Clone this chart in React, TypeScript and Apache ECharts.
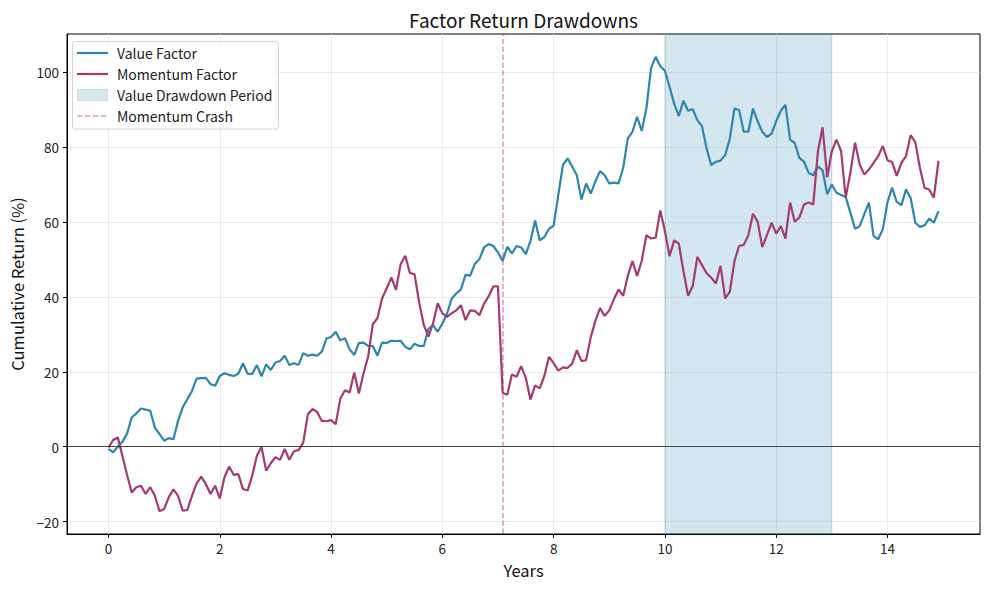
import { useEffect, useRef } from 'react'
import * as echarts from 'echarts'

// ── Data (monthly cumulative returns, %) ──────────────────────────────────────

const valueFactor = [
  -0.6, -1.5, 0.0, 1.3, 3.5, 7.8, 8.9, 10.2, 9.9, 9.6, 5.1, 3.4,
  1.6, 2.3, 2.0, 6.9, 10.5, 12.7, 14.9, 18.2, 18.3, 18.4, 16.7, 16.3,
  18.9, 19.6, 19.2, 18.9, 19.5, 22.3, 19.5, 19.4, 21.8, 18.8, 22.0, 20.5,
  22.5, 22.9, 24.3, 21.8, 22.3, 21.9, 25.0, 24.3, 24.6, 24.3, 25.4, 28.9,
  29.3, 30.7, 28.4, 29.0, 26.0, 24.5, 27.7, 27.8, 26.9, 26.9, 24.3, 27.8,
  27.7, 28.3, 28.2, 28.3, 26.7, 26.0, 27.5, 26.9, 26.9, 31.5, 32.5, 30.7,
  32.9, 35.5, 39.5, 40.9, 42.0, 45.9, 45.7, 48.8, 50.1, 53.2, 54.1, 53.6,
  51.9, 49.6, 53.4, 51.6, 53.6, 53.2, 51.4, 54.9, 60.4, 55.1, 56.0, 58.2,
  59.0, 67.2, 75.2, 77.0, 74.8, 72.5, 66.0, 70.3, 67.6, 70.8, 73.6, 72.5,
  70.3, 70.5, 70.3, 74.5, 82.3, 84.1, 88.1, 84.3, 90.3, 101.0, 104.1, 101.6,
  100.4, 96.1, 91.6, 88.3, 92.4, 89.7, 90.1, 87.2, 85.6, 79.6, 75.2, 76.1,
  76.4, 77.9, 82.3, 90.3, 89.9, 84.1, 84.1, 90.3, 86.9, 84.1, 82.7, 83.6,
  86.9, 89.7, 91.3, 82.0, 81.1, 77.1, 76.1, 73.1, 72.5, 74.9, 73.8, 67.4,
  70.0, 67.8, 67.2, 66.7, 62.5, 58.2, 58.9, 62.1, 65.2, 56.3, 55.4, 58.1,
  65.2, 69.2, 65.4, 64.5, 68.7, 66.4, 59.8, 58.7, 59.1, 60.9, 59.8, 62.9,
]

const momentumFactor = [
  -0.2, 1.8, 2.5, -2.5, -7.5, -12.2, -10.8, -10.4, -12.6, -10.8, -13.1, -17.2,
  -16.6, -13.5, -11.4, -13.1, -17.1, -16.9, -13.1, -9.8, -8.0, -10.0, -12.6, -10.4,
  -13.8, -8.2, -5.3, -7.5, -7.3, -11.3, -11.7, -7.7, -2.4, 0.0, -6.4, -4.4,
  -2.8, -3.5, -0.6, -3.5, -1.2, -0.9, 1.1, 8.7, 10.1, 9.3, 6.9, 6.8,
  7.1, 6.0, 12.9, 15.1, 14.5, 19.8, 14.2, 19.6, 24.1, 32.7, 34.3, 39.6,
  42.3, 45.2, 41.9, 48.7, 51.0, 46.4, 46.1, 38.5, 32.5, 29.4, 33.0, 38.3,
  35.6, 34.7, 35.6, 36.4, 37.8, 33.8, 36.4, 36.3, 35.1, 38.2, 40.2, 42.8,
  42.8, 14.4, 13.9, 19.3, 18.7, 21.5, 18.4, 12.6, 16.4, 15.6, 18.9, 24.0,
  22.3, 20.3, 21.2, 21.0, 22.2, 25.8, 22.9, 23.1, 29.2, 33.6, 37.0, 34.9,
  36.4, 39.4, 42.0, 40.3, 45.6, 49.6, 45.6, 49.6, 56.5, 55.6, 55.8, 63.1,
  57.6, 50.9, 55.1, 54.2, 46.9, 40.3, 42.9, 50.7, 48.5, 46.3, 45.1, 43.6,
  48.3, 39.6, 41.4, 49.6, 53.6, 53.9, 56.5, 62.2, 60.1, 53.3, 56.5, 59.8,
  56.9, 58.9, 55.6, 65.2, 60.1, 61.2, 64.7, 65.2, 64.7, 78.9, 85.3, 72.0,
  78.9, 82.0, 78.9, 66.5, 73.2, 81.2, 75.4, 72.7, 74.0, 75.8, 77.6, 80.3,
  76.5, 76.0, 72.3, 75.8, 77.6, 83.2, 81.3, 74.5, 69.1, 68.7, 66.5, 76.3,
]

const xTicks = [0, 2, 4, 6, 8, 10, 12, 14]
const yTicks = [-20, 0, 20, 40, 60, 80, 100]
const drawdownPeriod = [10, 13]
const crashMonth = 85

// ── Styling ───────────────────────────────────────────────────────────────────

const FONT = '"Noto Sans CJK JP", "Noto Sans", sans-serif'
const VALUE_COLOR = '#2E86AB'
const MOMENTUM_COLOR = '#A23B72'
const CRASH_COLOR = 'rgba(162,59,114,0.5)'
const GRID_COLOR = '#e6e6e6'
const LEGEND_Z = 100

const toPoints = (vals: number[]) => vals.map((v, i) => [i / 12, v])

const fmtTick = (v: number) => (v < 0 ? `\u2212${Math.abs(v)}` : `${v}`)

function legendGraphic() {
  const rows = [53, 74, 95, 116]
  const labels = ['Value Factor', 'Momentum Factor', 'Value Drawdown Period', 'Momentum Crash']
  const label = (text: string, y: number) => ({
    type: 'text',
    z: LEGEND_Z + 1,
    x: 117,
    y,
    style: { text, fill: '#222', font: `14px ${FONT}`, textVerticalAlign: 'middle' },
  })
  return [
    {
      type: 'rect',
      z: LEGEND_Z,
      shape: { x: 72.5, y: 41.5, width: 206, height: 87.5, r: 3 },
      style: { fill: 'rgba(255,255,255,0.85)', stroke: '#d4d4d4', lineWidth: 1 },
    },
    {
      type: 'line',
      z: LEGEND_Z + 1,
      shape: { x1: 77, y1: rows[0], x2: 108, y2: rows[0] },
      style: { stroke: VALUE_COLOR, lineWidth: 2.2 },
    },
    {
      type: 'line',
      z: LEGEND_Z + 1,
      shape: { x1: 77, y1: rows[1], x2: 108, y2: rows[1] },
      style: { stroke: MOMENTUM_COLOR, lineWidth: 2.2 },
    },
    {
      type: 'rect',
      z: LEGEND_Z + 1,
      shape: { x: 77.5, y: 89.5, width: 30, height: 11 },
      style: { fill: '#d5e7ee', stroke: 'rgba(46,134,171,0.2)', lineWidth: 1 },
    },
    {
      type: 'line',
      z: LEGEND_Z + 1,
      shape: { x1: 77, y1: rows[3], x2: 108, y2: rows[3] },
      style: { stroke: CRASH_COLOR, lineWidth: 1.5, lineDash: [5.5, 2.4] },
    },
    ...labels.map((l, i) => label(l, rows[i])),
  ]
}

export default function App() {
  const ref = useRef<HTMLDivElement>(null)

  useEffect(() => {
    if (!ref.current) return
    const chart = echarts.init(ref.current, null, { renderer: 'svg' })

    chart.setOption({
      animation: false,
      backgroundColor: '#fff',
      textStyle: { fontFamily: FONT },
      grid: {
        left: 67,
        top: 34,
        right: 9,
        bottom: 56,
        show: true,
        borderColor: '#000',
        borderWidth: 1,
        containLabel: false,
      },
      xAxis: {
        type: 'value',
        min: -0.746,
        max: 15.663,
        name: 'Years',
        nameLocation: 'middle',
        nameGap: 28,
        nameTextStyle: { fontSize: 16.5, color: '#111', fontFamily: FONT },
        axisLine: { show: true, onZero: false, lineStyle: { color: '#000', width: 1 } },
        axisTick: { show: true, length: 4, lineStyle: { color: '#000' }, customValues: xTicks },
        axisLabel: {
          customValues: xTicks,
          color: '#222',
          fontSize: 13.5,
          margin: 7,
          formatter: (v: number) => fmtTick(v),
        },
        splitLine: { show: true, lineStyle: { color: GRID_COLOR, width: 0.8 } },
      },
      yAxis: {
        type: 'value',
        min: -23.3,
        max: 110.2,
        name: 'Cumulative Return (%)',
        nameLocation: 'middle',
        nameGap: 42,
        nameTextStyle: { fontSize: 16.5, color: '#111', fontFamily: FONT },
        axisLine: { show: true, onZero: false, lineStyle: { color: '#000', width: 1 } },
        axisTick: { show: true, length: 4, lineStyle: { color: '#000' }, customValues: yTicks },
        axisLabel: {
          customValues: yTicks,
          color: '#222',
          fontSize: 13.5,
          margin: 8,
          formatter: (v: number) => fmtTick(v),
        },
        splitLine: { show: true, lineStyle: { color: GRID_COLOR, width: 0.8 } },
      },
      graphic: [
        {
          type: 'text',
          x: 523.5,
          y: 19,
          style: {
            text: 'Factor Return Drawdowns',
            fill: '#111',
            font: `19px ${FONT}`,
            textAlign: 'center',
            textVerticalAlign: 'middle',
          },
        },
        ...legendGraphic(),
      ],
      series: [
        {
          name: 'Value Drawdown Period',
          type: 'line',
          data: [],
          z: 1,
          silent: true,
          markArea: {
            silent: true,
            itemStyle: {
              color: 'rgba(46,134,171,0.2)',
              borderColor: 'rgba(46,134,171,0.25)',
              borderWidth: 1,
            },
            data: [[{ xAxis: drawdownPeriod[0] }, { xAxis: drawdownPeriod[1] }]],
          },
          markLine: {
            silent: true,
            symbol: 'none',
            label: { show: false },
            lineStyle: { color: '#333', width: 0.9, type: 'solid' },
            data: [{ yAxis: 0 }],
          },
        },
        {
          name: 'Value Factor',
          type: 'line',
          data: toPoints(valueFactor),
          showSymbol: false,
          z: 3,
          lineStyle: { color: VALUE_COLOR, width: 2.2 },
          itemStyle: { color: VALUE_COLOR },
        },
        {
          name: 'Momentum Factor',
          type: 'line',
          data: toPoints(momentumFactor),
          showSymbol: false,
          z: 3,
          lineStyle: { color: MOMENTUM_COLOR, width: 2.2 },
          itemStyle: { color: MOMENTUM_COLOR },
          markLine: {
            silent: true,
            symbol: 'none',
            label: { show: false },
            lineStyle: { color: CRASH_COLOR, width: 1.5, type: [5.5, 2.4] },
            data: [{ xAxis: crashMonth / 12 }],
          },
        },
      ],
    })

    return () => chart.dispose()
  }, [])

  return (
    <div
      ref={ref}
      style={{ position: 'fixed', left: 0, top: 0, width: 989, height: 590 }}
    />
  )
}
